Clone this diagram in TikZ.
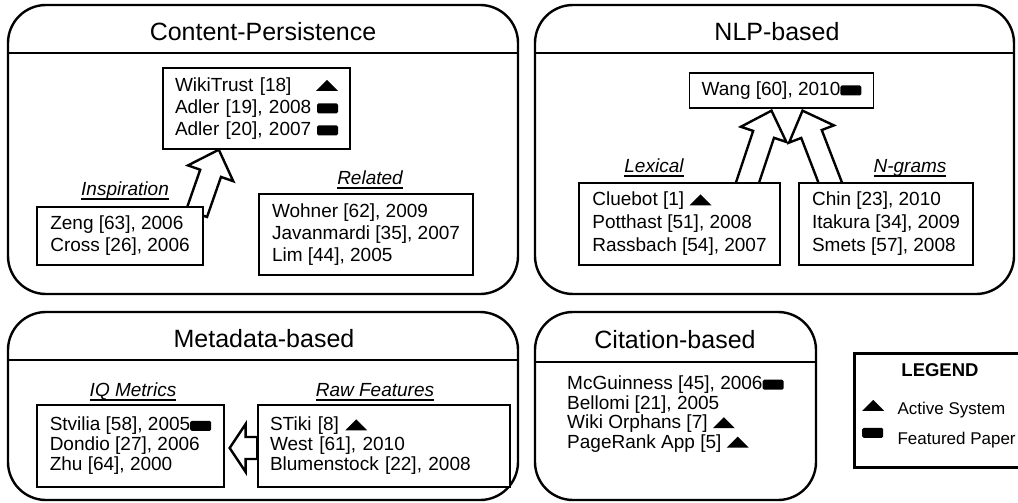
\documentclass[tikz,border=0pt]{standalone}
\usepackage{fontspec}
\setmainfont{Liberation Sans}
\usetikzlibrary{calc,positioning}

\pgfdeclarelayer{background}
\pgfsetlayers{background,main}

% symbols used in the lists
\newsavebox{\actbox}
\newsavebox{\featbox}
\sbox{\actbox}{\tikz\fill (0,0) -- (22pt,0) -- (11pt,11pt) -- cycle;}
\sbox{\featbox}{\tikz\fill[rounded corners=1.5pt] (0,0) rectangle (21pt,10pt);}
\newcommand{\actsym}{\raisebox{0.5pt}{\usebox{\actbox}}}
\newcommand{\featsym}{\usebox{\featbox}}
\newcommand{\ulabel}[1]{\setbox0\hbox{#1}\rlap{\rule[-5pt]{\wd0}{1.6pt}}\box0}

% hollow block arrow from #1 to #2, head length #3
\newcommand{\blockarrow}[3]{%
  \draw[blockline] let \p1=(#1), \p2=(#2),
    \n1={atan2(\y2-\y1,\x2-\x1)}, \n2={veclen(\x2-\x1,\y2-\y1)} in
    [shift={(\p1)}, rotate=\n1]
    (0pt,-11pt) -- ({\n2-#3pt},-11pt) -- ({\n2-#3pt},-24pt) -- (\n2,0pt)
    -- ({\n2-#3pt},24pt) -- ({\n2-#3pt},11pt) -- (0pt,11pt) -- cycle;}

\begin{document}
\begin{tikzpicture}[x=1pt, y=-1pt,
  panel/.style={line width=2.4pt, rounded corners=38pt},
  sepline/.style={line width=1.4pt},
  refbox/.style={draw, line width=1.3pt, fill=white, align=left, inner xsep=12pt,
    inner ysep=0pt, font=\fontsize{19}{22}\selectfont},
  heading/.style={anchor=base, font=\fontsize{25}{28}\selectfont},
  sublabel/.style={anchor=base, font=\fontsize{19}{22}\selectfont\itshape},
  legtext/.style={anchor=base west, font=\fontsize{17}{20}\selectfont},
  blockline/.style={line width=2.4pt, fill=white, line join=miter}]
  \useasboundingbox (0,0) rectangle (1018,503);

  % Panels
  \draw[panel] (8,5) rectangle (518,294);
  \draw[sepline] (8,53) -- (518,53);
  \draw[panel] (535,5) rectangle (1014,294);
  \draw[sepline] (535,53) -- (1014,53);
  \draw[panel] (8,312) rectangle (518,500);
  \draw[sepline] (8,360) -- (518,360);
  \draw[panel] (535,312) rectangle (816,500);
  \draw[sepline] (535,362) -- (816,362);

  \node[heading] (cpTitle) at (263,41) {Content-Persistence};
  \node[heading] (nlpTitle) at (777,41) {NLP-based};
  \node[heading] (metaTitle) at (264,347) {Metadata-based};
  \node[heading] (citeTitle) at (675,348) {Citation-based};

  % Content-Persistence
  \node[refbox, text width=163pt, minimum height=81pt] (wikitrust) at (256.5,108.5)
    {WikiTrust [18]\hfill\actsym\\ Adler [19], 2008\hfill\featsym\\ Adler [20], 2007\hfill\featsym};
  \node[sublabel] (inspLabel) at (125,195) {\ulabel{Inspiration}};
  \node[refbox, minimum width=166pt, minimum height=58pt] (zeng) at (120,236)
    {Zeng [63], 2006\\ Cross [26], 2006};
  \node[sublabel] (relLabel) at (370,184) {\ulabel{Related}};
  \node[refbox, minimum width=214pt, minimum height=81pt] (wohner) at (366,234.5)
    {Wohner [62], 2009\\ Javanmardi [35], 2007\\ Lim [44], 2005};

  % NLP-based
  \node[refbox, minimum width=183pt, minimum height=35pt] (wang) at (781.5,90.5)
    {Wang [60], 2010\featsym};
  \node[sublabel] (lexLabel) at (654,172) {\ulabel{Lexical}};
  \node[sublabel] (ngrLabel) at (910,172) {\ulabel{N-grams}};
  \node[refbox, minimum width=201pt, minimum height=82pt,
    font=\fontsize{19}{23}\selectfont] (cluebot) at (679.5,224)
    {Cluebot [1] \actsym\\ Potthast [51], 2008\\ Rassbach [54], 2007};
  \node[refbox, minimum width=174pt, minimum height=82pt,
    font=\fontsize{19}{23}\selectfont] (chin) at (886,224)
    {Chin [23], 2010\\ Itakura [34], 2009\\ Smets [57], 2008};

  % Metadata-based
  \node[sublabel] (iqLabel) at (133,396) {\ulabel{IQ Metrics}};
  \node[sublabel] (rawLabel) at (375,396) {\ulabel{Raw Features}};
  \node[refbox, minimum width=187pt, minimum height=82pt,
    font=\fontsize{19}{20}\selectfont] (stvilia) at (130.5,446)
    {Stvilia [58], 2005\featsym\\ Dondio [27], 2006\\ Zhu [64], 2000};
  \node[refbox, text width=228pt, minimum height=82pt,
    font=\fontsize{19}{20}\selectfont] (stiki) at (384,446)
    {STiki [8] \actsym\\ West [61], 2010\\ Blumenstock [22], 2008};

  % Citation-based
  \node[anchor=west, align=left, inner sep=0pt, font=\fontsize{19}{19.5}\selectfont]
    (citeList) at (567,414)
    {McGuinness [45], 2006\featsym\\ Bellomi [21], 2005\\
     Wiki Orphans [7] \actsym\\ PageRank App [5] \actsym};

  % Legend
  \node[draw, line width=3pt, anchor=north west, minimum width=175pt,
    minimum height=114pt] (legend) at (853,352) {};
  \node[anchor=base, font=\bfseries\fontsize{18.5}{22}\selectfont] (legTitle)
    at (940,376) {LEGEND};
  \node[anchor=south west, inner sep=0pt] (actKey) at (862,411) {\usebox{\actbox}};
  \node[legtext] (actText) at (894,414) {Active System};
  \node[anchor=south west, inner sep=0pt] (featKey) at (862,438) {\featsym};
  \node[legtext] (featText) at (894,444) {Featured Paper};

  % Block arrows
  \coordinate (cpTail) at ($(zeng.north east)+(-7,7)$);
  \coordinate (cpTip) at ($(wikitrust.south west)!0.3!(wikitrust.south east)$);
  \coordinate (lexTail) at ($(cluebot.north west)!0.83!(cluebot.north east)+(0,4)$);
  \coordinate (lexTip) at ($(wang.south)+(-10,2)$);
  \coordinate (ngrTail) at ($(chin.north west)!0.19!(chin.north east)+(0,4)$);
  \coordinate (ngrTip) at ($(wang.south)+(21,2)$);
  \coordinate (rawTail) at ($(stiki.west)+(0,2)$);
  \coordinate (rawTip) at ($(stvilia.east)+(5,2)$);
  \begin{pgfonlayer}{background}
    \blockarrow{cpTail}{cpTip}{25}
    \blockarrow{lexTail}{lexTip}{25}
    \blockarrow{ngrTail}{ngrTip}{25}
    \blockarrow{rawTail}{rawTip}{16}
  \end{pgfonlayer}
\end{tikzpicture}
\end{document}
